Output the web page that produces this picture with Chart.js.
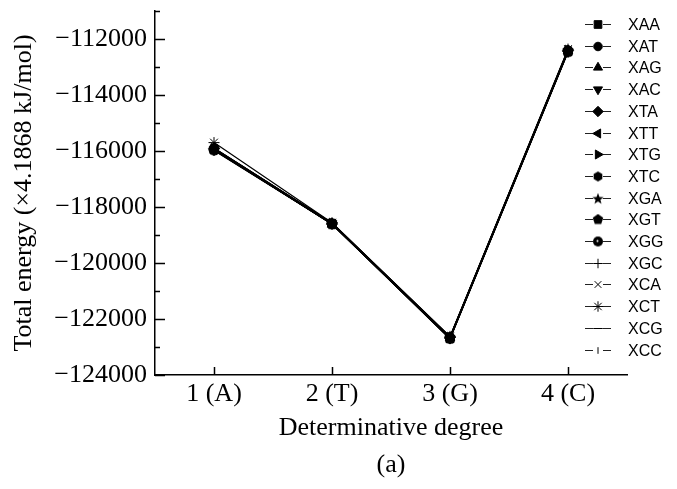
<!DOCTYPE html>
<html>
<head>
<meta charset="utf-8">
<script src="https://cdn.jsdelivr.net/npm/chart.js@4/dist/chart.umd.min.js"></script>
<style>
  body { margin: 0; background: #fff; }
  canvas { display: block; }
</style>
</head>
<body>
<canvas id="grafica" width="677" height="489"></canvas>
<script>
// Categorías del eje X
const categorias = ['1 (A)', '2 (T)', '3 (G)', '4 (C)'];

// Nombres de las series
const nombres = ['XAA', 'XAT', 'XAG', 'XAC', 'XTA', 'XTT', 'XTG', 'XTC',
                 'XGA', 'XGT', 'XGG', 'XGC', 'XCA', 'XCT', 'XCG', 'XCC'];

// Valores
const xaa = [-115950, -118600, -122700, -112450];
const xat = [-115900, -118580, -122650, -112400];
const xag = [-115930, -118620, -122680, -112430];
const xac = [-115970, -118590, -122700, -112460];
const xta = [-115920, -118610, -122660, -112420];
const xtt = [-115960, -118600, -122690, -112440];
const xtg = [-115900, -118570, -122640, -112390];
const xtc = [-115940, -118600, -122670, -112450];
const xga = [-115910, -118590, -122660, -112410];
const xgt = [-115950, -118620, -122690, -112440];
const xgg = [-115980, -118610, -122710, -112470];
const xgc = [-115920, -118580, -122650, -112400];
const xca = [-115890, -118570, -122640, -112380];
const xct = [-115700, -118560, -122620, -112360];
const xcg = [-115940, -118600, -122680, -112430];
const xcc = [-115930, -118590, -122670, -112420];
const valores = [xaa, xat, xag, xac, xta, xtt, xtg, xtc, xga, xgt, xgg, xgc, xca, xct, xcg, xcc];

// Marcadores propios dibujados en un canvas pequeño
function marcador(dibujar) {
    const c = document.createElement('canvas');
    c.width = 12;
    c.height = 12;
    const g = c.getContext('2d');
    g.fillStyle = '#000';
    g.strokeStyle = '#000';
    dibujar(g);
    return c;
}

function poligono(g, n, r, rot) {
    g.beginPath();
    for (let i = 0; i < n; i++) {
        const a = rot + i * 2 * Math.PI / n;
        const px = 6 + r * Math.cos(a), py = 6 + r * Math.sin(a);
        if (i === 0) g.moveTo(px, py); else g.lineTo(px, py);
    }
    g.closePath();
    g.fill();
}

const hexagono = marcador(g => poligono(g, 6, 5, -Math.PI / 2));
const pentagono = marcador(g => poligono(g, 5, 5.5, -Math.PI / 2));
const estrella = marcador(g => {
    g.beginPath();
    for (let i = 0; i < 10; i++) {
        const r = i % 2 === 0 ? 6 : 2.5;
        const a = -Math.PI / 2 + i * Math.PI / 5;
        const px = 6 + r * Math.cos(a), py = 6.5 + r * Math.sin(a);
        if (i === 0) g.moveTo(px, py); else g.lineTo(px, py);
    }
    g.closePath();
    g.fill();
});
const esfera = marcador(g => {
    g.beginPath();
    g.arc(6, 6, 5, 0, 2 * Math.PI);
    g.fill();
    g.fillStyle = '#fff';
    g.beginPath();
    g.arc(5.5, 5.5, 1, 0, 2 * Math.PI);
    g.fill();
});

// Estilo de punto de cada serie: [pointStyle, radio, rotación]
const estilos = [
    ['rect', 5.7, 0], ['circle', 4.5, 0], ['triangle', 5.5, 0], ['triangle', 5.5, 180],
    ['rectRot', 5.5, 0], ['triangle', 5.5, -90], ['triangle', 5.5, 90], [hexagono, 5, 0],
    [estrella, 6, 0], [pentagono, 5.5, 0], [esfera, 5, 0], ['cross', 5, 0],
    ['crossRot', 5, 0], ['star', 5.5, 0], ['line', 5, 0], ['line', 3.5, 90]
];

const datasets = nombres.map((n, i) => ({
    label: n,
    data: valores[i],
    borderColor: '#000',
    borderWidth: 1.2,
    backgroundColor: '#000',
    pointStyle: estilos[i][0],
    pointRadius: estilos[i][1],
    pointRotation: estilos[i][2],
    pointBackgroundColor: '#000',
    pointBorderColor: '#000',
    pointBorderWidth: 1,
    tension: 0
}));

// Fondo blanco
const fondo = {
    id: 'fondo',
    beforeDraw(chart) {
        const ctx = chart.ctx;
        ctx.save();
        ctx.fillStyle = '#fff';
        ctx.fillRect(0, 0, chart.width, chart.height);
        ctx.restore();
    }
};

// Marcas hacia dentro (mayores y menores) y leyenda con línea y marcador
const marcasYLeyenda = {
    id: 'marcasYLeyenda',
    afterDraw(chart) {
        const ctx = chart.ctx;
        const area = chart.chartArea;
        const ys = chart.scales.y;
        const xs = chart.scales.x;
        ctx.save();
        ctx.strokeStyle = '#000';
        ctx.lineWidth = 1.5;
        ctx.beginPath();
        ys.ticks.forEach(t => {
            const py = Math.round(ys.getPixelForValue(t.value)) + 0.5;
            const largo = t.value % 2000 === 0 ? 10 : 5;
            ctx.moveTo(area.left, py);
            ctx.lineTo(area.left + largo, py);
        });
        xs.ticks.forEach((t, i) => {
            const px = Math.round(xs.getPixelForTick(i)) + 0.5;
            ctx.moveTo(px, area.bottom);
            ctx.lineTo(px, area.bottom - 8);
        });
        ctx.stroke();

        // Leyenda: línea cortada alrededor del marcador
        ctx.font = '16px "Liberation Sans", Arial, sans-serif';
        ctx.textBaseline = 'middle';
        chart.data.datasets.forEach((ds, i) => {
            const y = Math.round(24 + i * 21.7) + 0.5;
            const hueco = 5;
            ctx.strokeStyle = '#222';
            ctx.lineWidth = 1;
            ctx.beginPath();
            ctx.moveTo(585, y);
            ctx.lineTo(598 - hueco, y);
            ctx.moveTo(598 + hueco, y);
            ctx.lineTo(611, y);
            ctx.stroke();
            ctx.strokeStyle = '#000';
            ctx.fillStyle = '#000';
            if (Chart.helpers && Chart.helpers.drawPoint) {
                Chart.helpers.drawPoint(ctx, {
                    pointStyle: ds.pointStyle,
                    radius: ds.pointRadius * 0.95,
                    rotation: ds.pointRotation,
                    borderWidth: 1
                }, 598, y);
            }
            ctx.fillStyle = '#000';
            ctx.fillText(ds.label, 628, y + 1);
        });
        ctx.restore();
    }
};

const fuenteSerif = '"Liberation Serif", "Times New Roman", serif';

new Chart(document.getElementById('grafica').getContext('2d'), {
    type: 'line',
    data: { labels: categorias, datasets: datasets },
    plugins: [fondo, marcasYLeyenda],
    options: {
        responsive: false,
        animation: false,
        devicePixelRatio: 1,
        layout: { padding: { left: 0, top: 11, right: 50, bottom: 0 } },
        plugins: {
            legend: { display: false },
            tooltip: { enabled: false },
            title: {
                display: true,
                text: '(a)',
                position: 'bottom',
                fullSize: false,
                color: '#000',
                font: { family: fuenteSerif, size: 26, weight: 'normal' },
                padding: { top: 0, bottom: 8 }
            }
        },
        scales: {
            x: {
                type: 'category',
                offset: true,
                grid: { display: true, drawOnChartArea: false, drawTicks: false },
                border: { display: true, color: '#000', width: 1.5 },
                ticks: { color: '#000', padding: 4, font: { family: fuenteSerif, size: 26 } },
                title: {
                    display: true,
                    text: 'Determinative degree',
                    color: '#000',
                    font: { family: fuenteSerif, size: 26 },
                    padding: { top: 0, bottom: 6 }
                },
                afterFit: s => { s.height = 74.8; s.paddingLeft = 0; s.paddingRight = 0; }
            },
            y: {
                min: -124000,
                max: -111000,
                grid: { display: true, drawOnChartArea: false, drawTicks: false },
                border: { display: true, color: '#000', width: 1.5 },
                ticks: {
                    stepSize: 1000,
                    autoSkip: false,
                    color: '#000',
                    padding: 8,
                    font: { family: fuenteSerif, size: 26 },
                    callback: v => (v % 2000 === 0 ? '\u2212' + Math.abs(v) : '')
                },
                title: {
                    display: true,
                    text: 'Total energy (\u00d74.1868 kJ/mol)',
                    color: '#000',
                    font: { family: fuenteSerif, size: 26 },
                    padding: { top: 9, bottom: 0 }
                },
                afterFit: s => { s.width = 155; s.paddingTop = 0; s.paddingBottom = 0; }
            }
        }
    }
});
</script>
</body>
</html>
